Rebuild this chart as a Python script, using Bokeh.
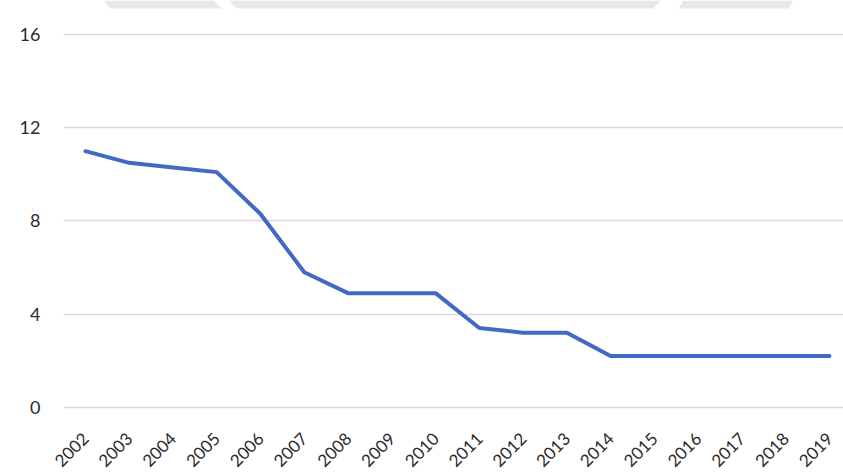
import math
from bokeh.plotting import figure
from bokeh.models import Range1d, FixedTicker, PolyAnnotation
from bokeh.embed import file_html
from bokeh.resources import INLINE

# Yearly values
years = [2002, 2003, 2004, 2005, 2006, 2007, 2008, 2009, 2010,
         2011, 2012, 2013, 2014, 2015, 2016, 2017, 2018, 2019]
values = [11.0, 10.5, 10.3, 10.1, 8.3, 5.8, 4.9, 4.9, 4.9,
          3.4, 3.2, 3.2, 2.2, 2.2, 2.2, 2.2, 2.2, 2.2]
y_ticks = [0, 4, 8, 12, 16]

# frame reaches the top edge; the headroom above 16 stays empty
p = figure(width=843, height=476, output_backend="svg", toolbar_location=None,
           x_range=Range1d(2001.5, 2019.32), y_range=Range1d(-0.1, 17.475),
           min_border_left=63, min_border_right=0, min_border_top=0,
           min_border_bottom=67)
p.outline_line_color = None
p.background_fill_color = "white"
p.border_fill_color = "white"

# faint grey band along the top edge of the page (canvas pixels)
band_pieces = [
    ([103, 213, 221, 110], [0, 0, 8, 8]),
    ([228, 660, 653, 237], [0, 0, 8, 8]),
    ([683, 793, 788, 678], [0, 0, 8, 8]),
]
for xs, ys in band_pieces:
    p.add_layout(PolyAnnotation(xs=xs, ys=ys,
                                xs_units="canvas", ys_units="canvas",
                                fill_color="#e8e8e8", fill_alpha=1.0,
                                line_color=None))

p.line(years, values, line_color="#4169C6", line_width=4, line_join="round",
       line_cap="round")

p.xgrid.grid_line_color = None
p.ygrid.grid_line_color = "#d9d9d9"
p.ygrid.grid_line_width = 1.5
p.ygrid.ticker = FixedTicker(ticks=y_ticks)

p.yaxis.ticker = FixedTicker(ticks=y_ticks)
p.yaxis.axis_line_color = None
p.yaxis.major_tick_line_color = None
p.yaxis.minor_tick_line_color = None
p.yaxis.major_label_text_font = "Lato"
p.yaxis.major_label_text_font_size = "18px"
p.yaxis.major_label_text_color = "#2b2b2b"
p.yaxis.major_label_standoff = 17

p.xaxis.ticker = FixedTicker(ticks=years)
p.xaxis.axis_line_color = None
p.xaxis.major_tick_line_color = None
p.xaxis.minor_tick_line_color = None
p.xaxis.major_label_orientation = math.pi / 4
p.xaxis.major_label_text_font = "Lato"
p.xaxis.major_label_text_font_size = "17px"
p.xaxis.major_label_text_color = "#2b2b2b"
p.xaxis.major_label_standoff = 20

open("out.html", "w").write(file_html(p, INLINE))
